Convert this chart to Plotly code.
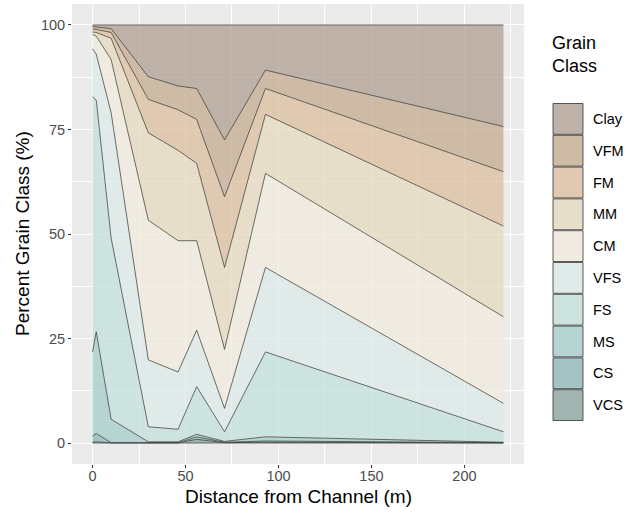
import plotly.graph_objects as go

# Distance from channel (m)
distance = [0, 2, 10, 30, 46, 56, 71, 93, 221]

# Grain classes, bottom of stack first
classes = ["VCS", "CS", "MS", "FS", "VFS", "CM", "MM", "FM", "VFM", "Clay"]

# Percent of each grain class at each distance
VCS  = [0.2, 0.3, 0.05, 0.05, 0.05, 0.9, 0.1, 0.2, 0.05]
CS   = [1.5, 2.0, 0.05, 0.05, 0.05, 0.6, 0.1, 0.3, 0.05]
MS   = [20.1, 24.3, 5.6, 0.2, 0.2, 0.6, 0.2, 1.0, 0.1]
FS   = [61.0, 55.4, 43.3, 3.6, 3.0, 11.4, 2.3, 20.3, 2.5]
VFS  = [11.5, 11.0, 30.0, 16.0, 13.7, 13.5, 5.6, 20.2, 6.8]
CM   = [3.4, 4.3, 12.7, 33.4, 31.4, 21.4, 14.1, 22.5, 20.7]
MM   = [0.6, 0.9, 5.1, 20.9, 21.6, 18.5, 19.6, 14.1, 21.7]
FM   = [0.7, 0.7, 1.4, 8.0, 9.7, 10.5, 16.9, 6.2, 13.0]
VFM  = [0.6, 0.6, 0.9, 5.4, 5.7, 7.4, 13.6, 4.4, 10.8]
Clay = [0.4, 0.5, 0.9, 12.4, 14.6, 15.2, 27.5, 10.8, 24.3]

values = [VCS, CS, MS, FS, VFS, CM, MM, FM, VFM, Clay]

# Colours as they appear (over the grey panel)
colors = ["#A0B5AF", "#A3C4C2", "#B6D4D2", "#CCE3DF", "#E0EAE8",
          "#EFEBE0", "#E7DEC9", "#DFC9B0", "#CDBBA6", "#BEB2A8"]

x_ticks = [0, 50, 100, 150, 200]
y_ticks = [0, 25, 50, 75, 100]

ALPHA = 0.75
BG = 235
FONT = "Liberation Sans, Arial"


def to_rgba(hexcol, a=ALPHA, bg=BG):
    r, g, b = (int(hexcol[i:i + 2], 16) for i in (1, 3, 5))
    f = lambda c: max(0, min(255, round((c - (1 - a) * bg) / a)))
    return f"rgba({f(r)},{f(g)},{f(b)},{a})"


fig = go.Figure()
for name, vals, col in zip(classes, values, colors):
    fig.add_trace(go.Scatter(
        x=distance, y=vals, name=name, mode="lines",
        stackgroup="one", fillcolor=to_rgba(col),
        line=dict(color="#333333", width=0.7),
        showlegend=False, hoverinfo="x+y+name",
    ))

# baseline outline at 0
fig.add_shape(type="line", xref="x", yref="y",
              x0=min(distance), x1=max(distance), y0=0, y1=0,
              line=dict(color="#333333", width=0.7))

L, R, T, B = 72, 117, 4, 49
W, H = 641, 513
pw, ph = W - L - R, H - T - B


def px(xp):
    return (xp - L) / pw


def py(yp):
    return (H - B - yp) / ph


# Axis titles
fig.add_annotation(xref="paper", yref="paper", x=px(298), y=py(497),
                   xanchor="center", yanchor="middle", showarrow=False,
                   text="Distance from Channel (m)",
                   font=dict(family=FONT, size=19, color="black"))
fig.add_annotation(xref="paper", yref="paper", x=px(22), y=py(234),
                   xanchor="center", yanchor="middle", showarrow=False, textangle=-90,
                   text="Percent Grain Class (%)",
                   font=dict(family=FONT, size=19, color="black"))

# Manual ggplot-like legend
fig.add_annotation(xref="paper", yref="paper", x=px(550), y=py(31),
                   xanchor="left", yanchor="top", showarrow=False, align="left",
                   text="Grain<br>Class",
                   font=dict(family=FONT, size=18, color="black"))
key_top, key_h, key_x0, key_x1 = 103, 31.8, 553, 583
for i, (name, col) in enumerate(zip(classes[::-1], colors[::-1])):
    y0 = key_top + i * key_h
    fig.add_shape(type="rect", xref="paper", yref="paper",
                  x0=px(key_x0), x1=px(key_x1), y0=py(y0 + 0.5), y1=py(y0 + key_h - 0.5),
                  fillcolor=col, line=dict(color="#333333", width=0.8))
    fig.add_annotation(xref="paper", yref="paper", x=px(591), y=py(y0 + key_h / 2),
                       xanchor="left", yanchor="middle", showarrow=False, text=name,
                       font=dict(family=FONT, size=14.5, color="black"))

axis_common = dict(
    showgrid=True, gridcolor="white", gridwidth=1.1, zeroline=False,
    ticks="outside", ticklen=3, tickcolor="#333333", tickwidth=1,
    tickfont=dict(family=FONT, size=14.5, color="#4D4D4D"),
    showline=False, automargin=False,
)

fig.update_layout(
    width=W, height=H,
    margin=dict(l=L, r=R, t=T, b=B, autoexpand=False),
    paper_bgcolor="white", plot_bgcolor="#EBEBEB",
    font=dict(family=FONT),
    xaxis=dict(range=[-11.05, 232.05], tickvals=x_ticks, ticklabelstandoff=-4,
               minor=dict(dtick=25, showgrid=True, gridcolor="white", gridwidth=0.5, ticks=""),
               **axis_common),
    yaxis=dict(range=[-5, 105], tickvals=y_ticks,
               minor=dict(dtick=12.5, showgrid=True, gridcolor="white", gridwidth=0.5, ticks=""),
               **axis_common),
)

fig.write_html("out.html", config={"displayModeBar": False},
               post_script="document.body.style.margin='0px';document.body.style.padding='0px';")
